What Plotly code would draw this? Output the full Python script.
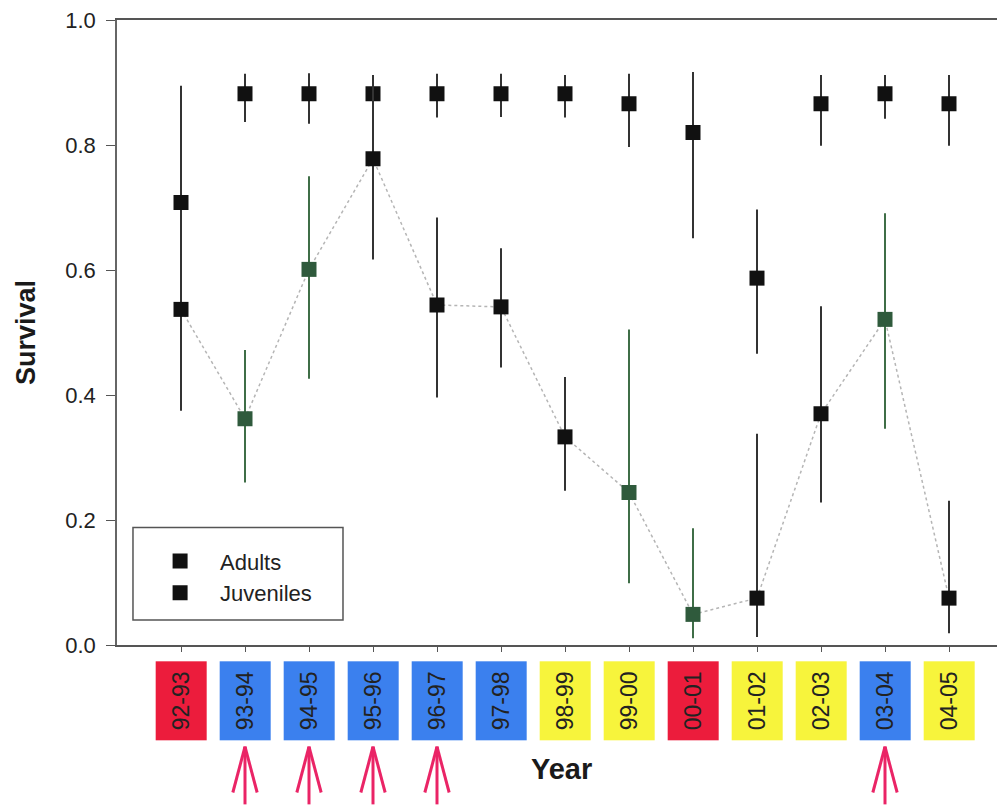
import plotly.graph_objects as go

years = ["92-93", "93-94", "94-95", "95-96", "96-97", "97-98", "98-99",
         "99-00", "00-01", "01-02", "02-03", "03-04", "04-05"]
year_class = ["red", "blue", "blue", "blue", "blue", "blue", "yellow",
              "yellow", "red", "yellow", "yellow", "blue", "yellow"]
arrow_years = ["93-94", "94-95", "95-96", "96-97", "03-04"]

adult_vals = [0.708, 0.882, 0.882, 0.882, 0.882, 0.882, 0.882, 0.866, 0.820, 0.587, 0.866, 0.882, 0.866]
adult_hi = [0.895, 0.914, 0.915, 0.912, 0.914, 0.914, 0.912, 0.914, 0.917, 0.697, 0.912, 0.912, 0.912]
adult_lo = [0.470, 0.837, 0.834, 0.840, 0.844, 0.845, 0.844, 0.797, 0.651, 0.466, 0.799, 0.842, 0.799]

juv_vals = [0.537, 0.362, 0.601, 0.778, 0.544, 0.541, 0.333, 0.244, 0.049, 0.075, 0.370, 0.521, 0.075]
juv_hi = [0.625, 0.472, 0.750, 0.900, 0.684, 0.635, 0.429, 0.505, 0.187, 0.338, 0.542, 0.691, 0.231]
juv_lo = [0.375, 0.260, 0.426, 0.617, 0.396, 0.444, 0.247, 0.099, 0.011, 0.013, 0.228, 0.346, 0.019]
juv_green = [0, 1, 1, 0, 0, 0, 0, 1, 1, 0, 0, 1, 0]

FONT = "Liberation Sans, Arial, sans-serif"
BLACK = "#111111"
GREEN = "#2f5a3c"
GREEN_BAR = "#3f6e47"
BAR = "#333333"
box_colors = {"red": "#ec1c3c", "blue": "#3b80ee", "yellow": "#f7f43c"}

idx = list(range(len(years)))

fig = go.Figure()

# dotted line linking juveniles
fig.add_trace(go.Scatter(x=idx, y=juv_vals, mode="lines",
                         line=dict(color="#b5b5b5", width=1.5, dash="dot"),
                         showlegend=False, hoverinfo="skip"))

# adults
fig.add_trace(go.Scatter(
    x=idx, y=adult_vals, mode="markers", name="Adults", legendgroup="a",
    marker=dict(symbol="square", size=15, color=BLACK),
    error_y=dict(type="data", symmetric=False,
                 array=[h - v for h, v in zip(adult_hi, adult_vals)],
                 arrayminus=[v - l for l, v in zip(adult_lo, adult_vals)],
                 color=BAR, thickness=2, width=0)))

# juvenile error bars split by colour
for flag, col in [(0, BAR), (1, GREEN_BAR)]:
    xs = [i for i in idx if juv_green[i] == flag]
    fig.add_trace(go.Scatter(
        x=xs, y=[juv_vals[i] for i in xs], mode="markers",
        marker=dict(size=1, color="rgba(0,0,0,0)"), showlegend=False, hoverinfo="skip",
        error_y=dict(type="data", symmetric=False,
                     array=[juv_hi[i] - juv_vals[i] for i in xs],
                     arrayminus=[juv_vals[i] - juv_lo[i] for i in xs],
                     color=col, thickness=2, width=0)))

# juveniles markers
fig.add_trace(go.Scatter(
    x=idx, y=juv_vals, mode="markers", name="Juveniles", legendgroup="j",
    marker=dict(symbol="square", size=15,
                color=[GREEN if g else BLACK for g in juv_green])))

# coloured year labels
annotations = []
for i, (yr, cl) in enumerate(zip(years, year_class)):
    annotations.append(dict(
        x=i, xref="x", y=-0.0893, yref="paper", text=yr, textangle=-90,
        showarrow=False, bgcolor=box_colors[cl], width=78, height=50,
        borderpad=0, font=dict(family=FONT, size=23, color="#222222"),
        xanchor="center", yanchor="middle"))

annotations.append(dict(x=0.5, xref="paper", y=-0.199, yref="paper", text="<b>Year</b>",
                        showarrow=False, font=dict(family=FONT, size=29, color="#1a1a1a"),
                        xanchor="center", yanchor="middle"))

shapes = []
ARROW = "#ea2466"
for yr in arrow_years:
    i = years.index(yr)
    tip, bottom, arm = -0.1627, -0.255, -0.236
    shapes.append(dict(type="line", xref="x", yref="paper", x0=i, x1=i, y0=tip, y1=bottom,
                       line=dict(color=ARROW, width=3)))
    for s in (-1, 1):
        shapes.append(dict(type="line", xref="x", yref="paper", x0=i, x1=i + s * 0.19,
                           y0=tip, y1=arm, line=dict(color=ARROW, width=3)))

# legend frame
shapes.append(dict(type="rect", xref="paper", yref="paper", x0=0.018, x1=0.2545,
                   y0=0.04, y1=0.188, line=dict(color="#555555", width=1.5),
                   fillcolor="rgba(0,0,0,0)"))

fig.update_layout(
    width=997, height=801,
    margin=dict(l=109, r=0, t=10, b=164),
    paper_bgcolor="white", plot_bgcolor="white",
    font=dict(family=FONT, size=16, color="#222222"),
    showlegend=True,
    legend=dict(x=0.026, y=0.1675, xanchor="left", yanchor="top",
                bgcolor="rgba(0,0,0,0)", borderwidth=0,
                font=dict(family=FONT, size=22, color="#222222"),
                itemwidth=70, traceorder="grouped", tracegroupgap=0),
    xaxis=dict(range=[-1, 12.875], tickmode="array", tickvals=idx, showticklabels=False,
               ticks="outside", ticklen=5, tickcolor="#555555", showgrid=False,
               zeroline=False, showline=True, linecolor="#555555", linewidth=1.5,
               mirror=True),
    yaxis=dict(range=[0, 1], tickmode="array", tickvals=[0, 0.2, 0.4, 0.6, 0.8, 1.0],
               ticktext=["0.0", "0.2", "0.4", "0.6", "0.8", "1.0"],
               ticks="outside", ticklen=9, tickcolor="#555555", showgrid=False,
               zeroline=False, showline=True, linecolor="#666666", linewidth=1.5,
               ticklabelstandoff=6, ticklabeloverflow="allow",
               tickfont=dict(family=FONT, size=22, color="#222222"),
               title=dict(text="<b>Survival</b>", font=dict(family=FONT, size=27, color="#1a1a1a"),
                          standoff=22)),
    annotations=annotations,
    shapes=shapes,
)

fig.write_html("out.html")
